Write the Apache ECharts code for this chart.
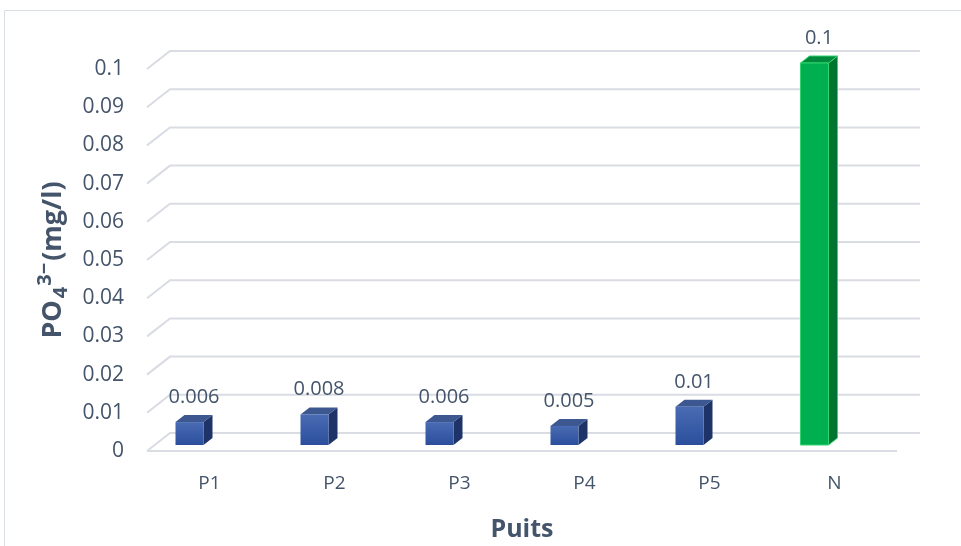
<!DOCTYPE html>
<html>
<head>
<meta charset="utf-8">
<script src="https://cdn.jsdelivr.net/npm/echarts@6/dist/echarts.min.js"></script>
<style>
  html, body { margin: 0; padding: 0; background: #ffffff; }
  #chart { width: 961px; height: 546px; }
</style>
</head>
<body>
<div id="chart"></div>
<script>
// Phosphate concentration per well
const categories = ['P1', 'P2', 'P3', 'P4', 'P5', 'N'];
const values = [0.006, 0.008, 0.006, 0.005, 0.01, 0.1];
const yTicks = [0, 0.01, 0.02, 0.03, 0.04, 0.05, 0.06, 0.07, 0.08, 0.09, 0.1];

const TEXT = '#44546A';
const FONT = 'Open Sans';
// perspective offsets of the back wall and of the column depth
const WALL_DX = 23, WALL_DY = -18;
const BAR_DX = 9, BAR_DY = -7, BAR_W = 28, BAR_SHIFT = -20, BAR_LIFT = -6;

const chart = echarts.init(document.getElementById('chart'), null, { renderer: 'canvas' });

function wallItem(params, api) {
  const cs = params.coordSys;
  const v = api.value(0);
  const y = api.coord([0, v])[1];
  const left = cs.x, right = cs.x + cs.width;
  const style = { stroke: '#d9dce3', lineWidth: 2, fill: null };
  const children = [{
    type: 'polyline',
    shape: { points: [[left, y], [left + WALL_DX, y + WALL_DY], [right + WALL_DX, y + WALL_DY]] },
    style: style
  }];
  if (v === 0) {
    children.push({ type: 'line', shape: { x1: left, y1: y, x2: right, y2: y }, style: style });
  }
  return { type: 'group', children: children, silent: true };
}

function barItem(params, api) {
  const i = api.value(0), v = api.value(1);
  const top = api.coord([i, v]);
  const base = api.coord([i, 0]);
  const cx = top[0] + BAR_SHIFT;
  const x0 = cx - BAR_W / 2, x1 = cx + BAR_W / 2;
  const yT = top[1] + BAR_LIFT, yB = base[1] + BAR_LIFT;
  const green = categories[i] === 'N';
  const front = green ? '#00b050' : new echarts.graphic.LinearGradient(0, 0, 0, 1, [
    { offset: 0, color: '#4a6cb4' }, { offset: 1, color: '#2b4e9c' }]);
  const side = green ? '#007532' : '#1e3468';
  const lid = green ? '#00893d' : '#3d5791';
  const edge = green ? '#33d46f' : 'rgba(0,0,0,0)';
  return {
    type: 'group',
    children: [
      { type: 'polygon', shape: { points: [[x1, yT], [x1 + BAR_DX, yT + BAR_DY], [x1 + BAR_DX, yB + BAR_DY], [x1, yB]] },
        style: { fill: side, stroke: edge, lineWidth: 1 } },
      { type: 'polygon', shape: { points: [[x0, yT], [x0 + BAR_DX, yT + BAR_DY], [x1 + BAR_DX, yT + BAR_DY], [x1, yT]] },
        style: { fill: lid, stroke: edge, lineWidth: 1 } },
      { type: 'rect', shape: { x: x0, y: yT, width: BAR_W, height: yB - yT },
        style: { fill: front, stroke: edge, lineWidth: 1 } },
      { type: 'text', x: cx + BAR_DX / 2, y: yT + BAR_DY - 18,
        style: { text: String(v), fill: TEXT, font: '20px "' + FONT + '"', align: 'center', verticalAlign: 'middle' } }
    ]
  };
}

chart.setOption({
  backgroundColor: '#ffffff',
  animation: false,
  graphic: [{
    type: 'rect', shape: { x: 4.5, y: 10.5, width: 970, height: 560 },
    style: { fill: null, stroke: '#d9dde5', lineWidth: 1 }, silent: true, z: -10
  }],
  grid: { left: 147, right: 64, top: 69, bottom: 95, outerBoundsMode: 'none', containLabel: false },
  xAxis: {
    type: 'category',
    data: categories,
    axisLine: { show: false },
    axisTick: { show: false },
    axisLabel: { color: TEXT, fontFamily: FONT, fontSize: 19, margin: 23 },
    name: 'Puits',
    nameLocation: 'middle',
    nameGap: 66,
    nameTextStyle: { color: TEXT, fontFamily: FONT, fontSize: 25, fontWeight: 'bold' }
  },
  yAxis: {
    type: 'value',
    min: 0, max: 0.1, interval: 0.01,
    splitLine: { show: false },
    axisLine: { show: false },
    axisTick: { show: false },
    axisLabel: { color: TEXT, fontFamily: FONT, fontSize: 21, margin: 23, padding: [4, 0, 0, 0],
      formatter: function (v) { return String(+v.toFixed(3)); } },
    name: '{b|PO}{sub|4}{sup|3−}{b|(mg/l)}',
    nameLocation: 'middle',
    nameGap: 76,
    nameRotate: 90,
    nameTextStyle: {
      color: TEXT, fontFamily: FONT, fontSize: 27, fontWeight: 'bold',
      rich: {
        b: { color: TEXT, fontFamily: FONT, fontSize: 27, fontWeight: 'bold', lineHeight: 36 },
        sub: { color: TEXT, fontFamily: FONT, fontSize: 20, fontWeight: 'bold', lineHeight: 36, verticalAlign: 'bottom', padding: [0, 0, 0, 2] },
        sup: { color: TEXT, fontFamily: FONT, fontSize: 20, fontWeight: 'bold', lineHeight: 36, verticalAlign: 'top', padding: [0, 2, 0, 1] }
      }
    }
  },
  series: [
    { type: 'custom', renderItem: wallItem, data: yTicks.map(function (t) { return [t]; }),
      encode: { y: 0 }, z: 1, silent: true },
    { type: 'custom', renderItem: barItem, data: values.map(function (v, i) { return [i, v]; }),
      encode: { x: 0, y: 1 }, z: 5 }
  ]
});
</script>
</body>
</html>
